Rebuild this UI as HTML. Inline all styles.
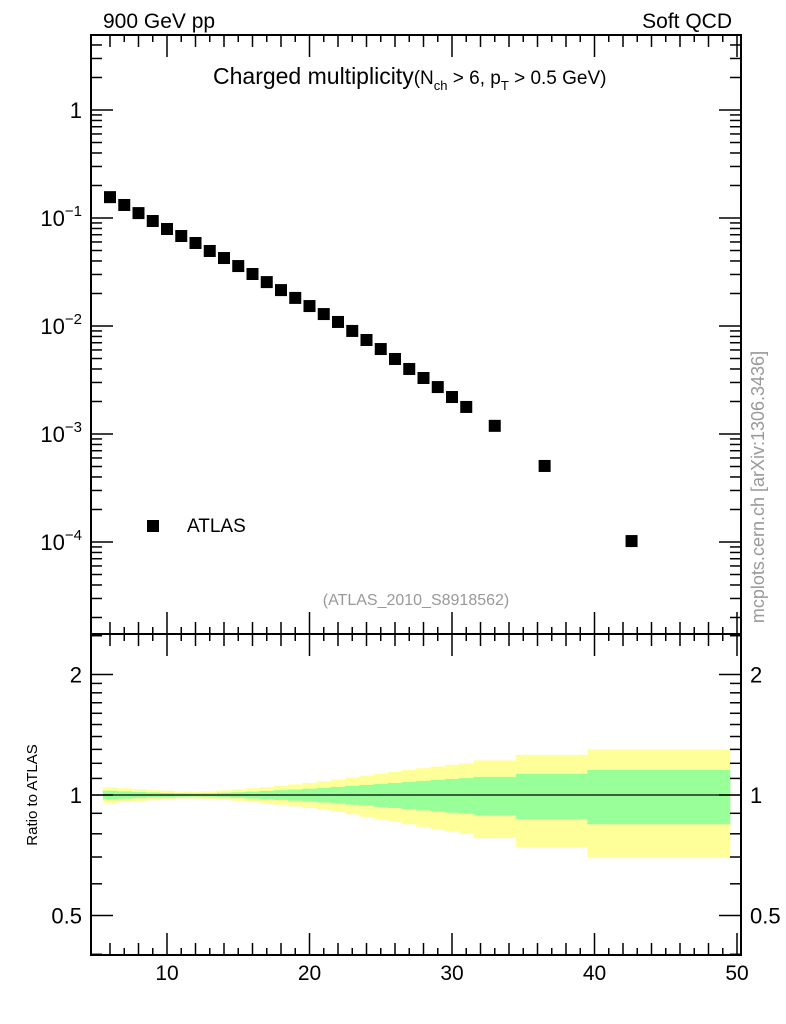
<!DOCTYPE html>
<html><head><meta charset="utf-8"><style>
body{margin:0;background:#fff;}
svg{display:block;font-family:"Liberation Sans",sans-serif;}
</style></head><body>
<svg id="c" width="786" height="1024" viewBox="0 0 786 1024">
<text x="103" y="28" font-size="21">900 GeV pp</text>
<text x="732" y="28" font-size="21" text-anchor="end">Soft QCD</text>
<text x="213" y="84" font-size="23">Charged multiplicity<tspan font-size="19">(N</tspan><tspan font-size="13" dy="6">ch</tspan><tspan font-size="19" dy="-6"> &gt; 6, p</tspan><tspan font-size="13" dy="6">T</tspan><tspan font-size="19" dy="-6"> &gt; 0.5 GeV)</tspan></text>
<text x="416" y="605" font-size="16" fill="#999" text-anchor="middle">(ATLAS_2010_S8918562)</text>
<text transform="translate(764,487) rotate(-90)" font-size="18" fill="#999" text-anchor="middle">mcplots.cern.ch [arXiv:1306.3436]</text>
<text transform="translate(37,795) rotate(-90)" font-size="15" text-anchor="middle">Ratio to ATLAS</text>
<rect x="147" y="520" width="12" height="12" fill="#000"/>
<text x="187" y="532" font-size="19">ATLAS</text>
<g id="bands"></g><g id="axes"></g><g id="pts"></g>
</svg>
<script>
const xVals=[6,7,8,9,10,11,12,13,14,15,16,17,18,19,20,21,22,23,24,25,26,27,28,29,30,31,33,36.5,42.6];
const yVals=[0.156,0.132,0.111,0.0938,0.0791,0.0681,0.0587,0.0495,0.0426,0.0359,0.0303,0.0255,0.0215,0.0182,0.0153,0.0129,0.0109,0.0090,0.00742,0.00612,0.00495,0.00400,0.00330,0.00272,0.00220,0.00178,0.00119,0.000506,0.000102];
const binLo=[5.5,6.5,7.5,8.5,9.5,10.5,11.5,12.5,13.5,14.5,15.5,16.5,17.5,18.5,19.5,20.5,21.5,22.5,23.5,24.5,25.5,26.5,27.5,28.5,29.5,30.5,31.5,34.5,39.5];
const binHi=[6.5,7.5,8.5,9.5,10.5,11.5,12.5,13.5,14.5,15.5,16.5,17.5,18.5,19.5,20.5,21.5,22.5,23.5,24.5,25.5,26.5,27.5,28.5,29.5,30.5,31.5,34.5,39.5,49.5];
const totErr=[0.045,0.04,0.035,0.03,0.025,0.02,0.02,0.022,0.027,0.033,0.04,0.047,0.055,0.063,0.072,0.082,0.093,0.105,0.118,0.13,0.142,0.155,0.167,0.178,0.19,0.2,0.22,0.26,0.30];
const statErr=[0.025,0.021,0.018,0.015,0.012,0.01,0.009,0.01,0.013,0.016,0.02,0.024,0.028,0.032,0.037,0.042,0.048,0.054,0.06,0.066,0.072,0.078,0.085,0.091,0.097,0.102,0.11,0.13,0.155];
const xTicks=[10,20,30,40,50];
const yTicks=[1,0.1,0.01,0.001,0.0001];
const yTickLabels=["1","10^-1","10^-2","10^-3","10^-4"];
const rTicks=[0.5,1,2];
const rTickLabels=["0.5","1","2"];

const NS="http://www.w3.org/2000/svg";
const L=91,R=741,T=35,MB=634,B=955;
const X=v=>24.5+v*14.25;
const Y=v=>110-Math.log10(v)*108;
const RY=v=>795-Math.log2(v)*120.5;
function mk(tag,at,parent){const e=document.createElementNS(NS,tag);for(const k in at)e.setAttribute(k,at[k]);document.getElementById(parent).appendChild(e);return e;}
function line(x1,y1,x2,y2,w){return mk('line',{x1,y1,x2,y2,stroke:'#000','stroke-width':w||1},'axes');}

for(let i=0;i<binLo.length;i++){
  const y=mk('rect',{x:X(binLo[i]),y:RY(1+totErr[i]),width:X(binHi[i])-X(binLo[i])+0.5,height:RY(1-totErr[i])-RY(1+totErr[i]),fill:'#ffff99'},'bands');
  
  
}
for(let i=0;i<binLo.length;i++){
  const g=mk('rect',{x:X(binLo[i]),y:RY(1+statErr[i]),width:X(binHi[i])-X(binLo[i])+0.5,height:RY(1-statErr[i])-RY(1+statErr[i]),fill:'#99ff99'},'bands');
  
  
}
const ref=line(L,RY(1),R,RY(1),1.2);



const f1=mk('rect',{x:L,y:T,width:R-L,height:MB-T,fill:'none',stroke:'#000','stroke-width':2},'axes');


const f2=mk('rect',{x:L,y:MB,width:R-L,height:B-MB,fill:'none',stroke:'#000','stroke-width':2},'axes');



for(let v=6;v<=50;v++){
  const major=v%10===0, px=X(v);
  const len=major?22:(v%2===0?12:7);
  [[T,1],[MB,1],[MB,-1],[B,-1]].forEach(([yy,d])=>line(px,yy,px,yy+d*len,1.5));
}
xTicks.forEach(v=>{
  const t=mk('text',{x:X(v),y:980,'font-size':21,'text-anchor':'middle'},'axes');t.textContent=v;
  
  
});
for(let e=-5;e<=0;e++){
  for(let m=1;m<10;m++){
    const v=m*Math.pow(10,e),py=Y(v);
    if(py<T||py>MB)continue;
    const len=m===1?22:11;
    line(L,py,L+len,py,1.5);line(R,py,R-len,py,1.5);
  }
}
yTicks.forEach((v,i)=>{
  const t=mk('text',{x:82,y:Y(v)+8,'font-size':22,'text-anchor':'end'},'axes');
  const lab=yTickLabels[i];
  if(lab.includes('^')){const [b,ex]=lab.split('^');t.textContent=b;const s=document.createElementNS(NS,'tspan');s.setAttribute('dy','-10');s.setAttribute('font-size','15');s.textContent=ex.replace('-','\u2212');t.appendChild(s);}
  else t.textContent=lab;
  
  
});
const rMinor=[0.4,0.5,0.6,0.7,0.8,0.9,1,1.1,1.2,1.3,1.4,1.5,1.6,1.7,1.8,1.9,2,2.5];
rMinor.forEach(v=>{
  const py=RY(v); if(py<MB||py>B)return;
  const len=(v===0.5||v===1||v===2)?22:11;
  line(L,py,L+len,py,1.5);line(R,py,R-len,py,1.5);
});
rTicks.forEach((v,i)=>{
  const a=mk('text',{x:82,y:RY(v)+8,'font-size':22,'text-anchor':'end'},'axes');a.textContent=rTickLabels[i];
  
  
  const b=mk('text',{x:750,y:RY(v)+8,'font-size':22},'axes');b.textContent=rTickLabels[i];
  
  
});
xVals.forEach((xv,i)=>{
  const p=mk('rect',{x:X(xv)-6,y:Y(yVals[i])-6,width:12,height:12,fill:'#000'},'pts');
  
  
});
</script>
</body></html>
